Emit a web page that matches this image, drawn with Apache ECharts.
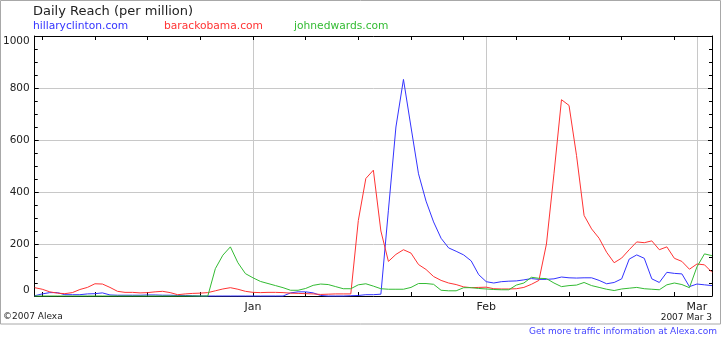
<!DOCTYPE html>
<html>
<head>
<meta charset="utf-8">
<script src="https://cdn.jsdelivr.net/npm/echarts@6/dist/echarts.min.js"></script>
<style>html,body{margin:0;padding:0;background:#fff;}#c{width:725px;height:340px;}</style>
</head>
<body>
<div id="c"></div>
<script>
// Daily data, 2006-12-03 .. 2007-03-03
const startDate = [2006, 11, 3];
const dayCount = 91;
const seriesNames = ['hillaryclinton.com', 'barackobama.com', 'johnedwards.com'];
const monthNames = ['Jan','Feb','Mar','Apr','May','Jun','Jul','Aug','Sep','Oct','Nov','Dec'];
const yTicks = [0, 200, 400, 600, 800, 1000];

const clinton = [1,8,13,13,5,5,5,8,9,12,4,3,3,3,3,4,4,3,3,2,2,1,0,
  0,0,0,0,0,0,0,0,0,0,0,
  12,16,16,12,2,0,0,0,1,2,5,5,7,330,650,833,650,470,365,285,222,185,172,158,135,82,
  55,50,55,57,58,62,67,64,64,66,73,70,69,70,70,60,47,52,66,142,158,145,66,52,91,87,85,36,46,43,40];

const obama = [32,26,16,11,9,13,25,33,47,46,33,18,14,14,12,13,16,18,13,5,8,10,11,
  13,20,27,32,26,18,14,13,14,14,13,11,10,9,8,6,7,8,8,8,290,452,484,250,133,160,178,165,121,102,75,60,50,44,35,32,33,
  34,28,27,27,28,33,45,60,200,470,755,733,540,310,258,222,168,128,146,178,208,205,212,178,189,145,133,103,123,120,91];

const edwards = [0,0,0,0,0,0,0,0,0,0,0,0,0,0,0,0,0,0,0,0,0,0,0,
  0,105,157,189,128,86,70,56,48,40,32,22,22,29,41,46,44,36,28,28,43,47,38,28,26,26,26,33,48,48,45,22,20,20,32,32,29,
  27,25,24,24,42,50,72,68,67,50,36,40,42,52,40,33,26,21,27,30,33,28,26,24,43,50,44,32,112,162,155];

const dates = [];
const mondays = new Set();
const monthStarts = new Set();
for (let i = 0; i < dayCount; i++) {
  const d = new Date(Date.UTC(startDate[0], startDate[1], startDate[2] + i));
  dates.push(d.toISOString().slice(0, 10));
  if (d.getUTCDay() === 1) mondays.add(i);
  if (d.getUTCDate() === 1) monthStarts.add(i);
}

const FONT = 'DejaVu Sans';
const BLUE = '#3333ff', RED = '#ff3333', GREEN = '#33bb33';

const chart = echarts.init(document.getElementById('c'), null, {renderer: 'canvas'});

function xAxisDef(pos, labels) {
  return {
    type: 'category', data: dates, boundaryGap: false, position: pos,
    axisLine: {show: true, onZero: false, lineStyle: {color: '#000', width: 1}},
    axisTick: {show: true, inside: true, length: 4, interval: (i) => mondays.has(i), lineStyle: {color: '#000'}},
    axisLabel: {
      show: labels, interval: (i) => monthStarts.has(i),
      formatter: (v) => monthNames[parseInt(v.slice(5, 7), 10) - 1],
      color: '#222', fontFamily: FONT, fontSize: 11, margin: 6
    },
    splitLine: {show: labels, interval: (i) => monthStarts.has(i), lineStyle: {color: '#c8c8c8', width: 1}}
  };
}

function yAxisDef(pos, labels) {
  return {
    type: 'value', min: yTicks[0], max: yTicks[yTicks.length - 1], interval: 200, position: pos,
    axisLine: {show: true, lineStyle: {color: '#000', width: 1}},
    axisTick: {show: true, inside: true, length: 4, lineStyle: {color: '#000'}},
    minorTick: {show: true, splitNumber: 4, length: 3, lineStyle: {color: '#000'}},
    splitLine: {show: labels, lineStyle: {color: '#c8c8c8', width: 1}},
    axisLabel: {show: labels, color: '#222', fontFamily: FONT, fontSize: 10.5, margin: 5,
      formatter: (v) => String(v),
      verticalAlignMinLabel: 'bottom', verticalAlignMaxLabel: 'top'}
  };
}

function lineSeries(name, data, color, z) {
  return {
    name: name, type: 'line', data: data, xAxisIndex: 0, yAxisIndex: 0,
    symbol: 'none', clip: false, z: z, animation: false,
    lineStyle: {color: color, width: 1}, itemStyle: {color: color}
  };
}

const legendX = [33, 164, 294];
const legendColors = [BLUE, RED, GREEN];

chart.setOption({
  animation: false,
  backgroundColor: '#fff',
  grid: {left: 34, right: 13, top: 36, bottom: 44, containLabel: false},
  xAxis: [xAxisDef('bottom', true), xAxisDef('top', false)],
  yAxis: [yAxisDef('left', true), yAxisDef('right', false)],
  series: [
    lineSeries(seriesNames[0], clinton, BLUE, 3),
    lineSeries(seriesNames[1], obama, RED, 4),
    lineSeries(seriesNames[2], edwards, GREEN, 5)
  ],
  graphic: [
    {type: 'rect', silent: true, shape: {x: 0.5, y: 0.5, width: 720, height: 323.5},
      style: {fill: 'none', stroke: '#a8a8a8', lineWidth: 1}},
    {type: 'text', x: 33, y: 11.5, style: {text: 'Daily Reach (per million)', fill: '#222',
      font: '13px "' + FONT + '"', verticalAlign: 'middle'}},
  ].concat(seriesNames.map((n, k) => ({
    type: 'text', x: legendX[k], y: 26.5,
    style: {text: n, fill: legendColors[k], font: '10.7px "' + FONT + '"', verticalAlign: 'middle'}
  }))).concat([
    {type: 'text', x: 3, y: 317, style: {text: '\u00a92007 Alexa', fill: '#222', font: '9px "' + FONT + '"', verticalAlign: 'middle'}},
    {type: 'text', x: 712, y: 318, style: {text: '2007 Mar 3', fill: '#222', font: '9px "' + FONT + '"', align: 'right', verticalAlign: 'middle'}},
    {type: 'text', x: 717, y: 331.5, style: {text: 'Get more traffic information at Alexa.com', fill: '#4444ff', font: '9px "' + FONT + '"', align: 'right', verticalAlign: 'middle'}}
  ])
});
</script>
</body>
</html>
